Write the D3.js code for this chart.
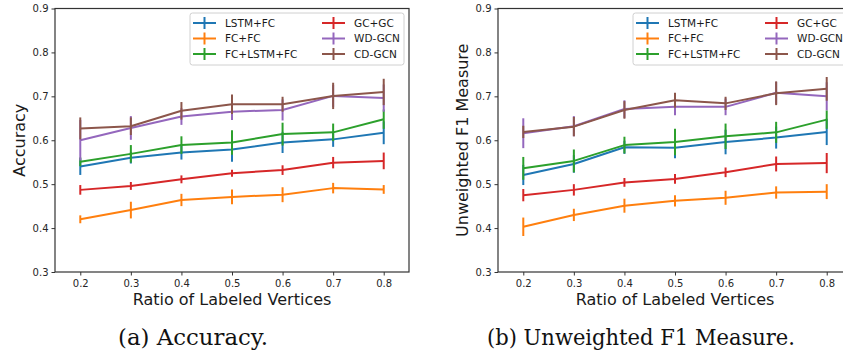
<!DOCTYPE html>
<html>
<head>
<meta charset="utf-8">
<script src="https://cdn.jsdelivr.net/npm/d3@7"></script>
<style>
  body { margin: 0; background: #fff; }
  svg { display: block; }
  .tick text { font-family: "DejaVu Sans", sans-serif; font-size: 10px; fill: #262626; }
</style>
</head>
<body>
<svg id="chart" width="843" height="353"></svg>
<script>
// ---------- data ----------
const ratios = [0.2, 0.3, 0.4, 0.5, 0.6, 0.7, 0.8];
const seriesNames = ["LSTM+FC", "FC+FC", "FC+LSTM+FC", "GC+GC", "WD-GCN", "CD-GCN"];
const seriesColors = ["#1f77b4", "#ff7f0e", "#2ca02c", "#d62728", "#9467bd", "#8c564b"];
const yTicks = [0.3, 0.4, 0.5, 0.6, 0.7, 0.8, 0.9];
const xTicks = [0.2, 0.3, 0.4, 0.5, 0.6, 0.7, 0.8];

// Accuracy (a)
const accLSTMFC     = [0.540, 0.560, 0.572, 0.579, 0.595, 0.602, 0.617];
const accLSTMFCErr  = [0.019, 0.013, 0.016, 0.028, 0.024, 0.017, 0.026];
const accFCFC       = [0.420, 0.441, 0.464, 0.471, 0.476, 0.491, 0.488];
const accFCFCErr    = [0.009, 0.019, 0.014, 0.017, 0.017, 0.012, 0.010];
const accFCLSTMFC   = [0.551, 0.569, 0.589, 0.595, 0.614, 0.618, 0.648];
const accFCLSTMFCErr= [0.010, 0.020, 0.020, 0.028, 0.026, 0.020, 0.022];
const accGCGC       = [0.487, 0.496, 0.511, 0.525, 0.532, 0.549, 0.553];
const accGCGCErr    = [0.011, 0.009, 0.009, 0.008, 0.011, 0.013, 0.019];
const accWDGCN      = [0.600, 0.628, 0.654, 0.665, 0.669, 0.701, 0.696];
const accWDGCNErr   = [0.046, 0.027, 0.019, 0.019, 0.024, 0.025, 0.031];
const accCDGCN      = [0.627, 0.632, 0.667, 0.682, 0.682, 0.701, 0.710];
const accCDGCNErr   = [0.025, 0.020, 0.020, 0.022, 0.017, 0.030, 0.030];

// Unweighted F1 (b)
const f1LSTMFC      = [0.521, 0.546, 0.584, 0.583, 0.596, 0.606, 0.619];
const f1LSTMFCErr   = [0.023, 0.020, 0.015, 0.024, 0.028, 0.025, 0.030];
const f1FCFC        = [0.403, 0.430, 0.451, 0.462, 0.469, 0.481, 0.483];
const f1FCFCErr     = [0.021, 0.014, 0.016, 0.013, 0.016, 0.014, 0.017];
const f1FCLSTMFC    = [0.536, 0.553, 0.589, 0.596, 0.609, 0.618, 0.647];
const f1FCLSTMFCErr = [0.026, 0.026, 0.019, 0.030, 0.029, 0.024, 0.021];
const f1GCGC        = [0.475, 0.487, 0.504, 0.512, 0.527, 0.546, 0.548];
const f1GCGCErr     = [0.014, 0.013, 0.010, 0.011, 0.011, 0.017, 0.023];
const f1WDGCN       = [0.616, 0.632, 0.671, 0.676, 0.676, 0.708, 0.700];
const f1WDGCNErr    = [0.034, 0.023, 0.020, 0.019, 0.019, 0.025, 0.032];
const f1CDGCN       = [0.619, 0.631, 0.669, 0.691, 0.684, 0.707, 0.717];
const f1CDGCNErr    = [0.014, 0.022, 0.020, 0.017, 0.015, 0.027, 0.027];

const panels = [
  {
    left: 55, right: 409, top: 8.5, bottom: 272,
    yLabel: "Accuracy", yLabelX: 19,
    caption: "(a) Accuracy.", captionX: 193, captionW: 150,
    legendX: 190,
    values: [accLSTMFC, accFCFC, accFCLSTMFC, accGCGC, accWDGCN, accCDGCN],
    errors: [accLSTMFCErr, accFCFCErr, accFCLSTMFCErr, accGCGCErr, accWDGCNErr, accCDGCNErr]
  },
  {
    left: 498, right: 852, top: 8.5, bottom: 272,
    yLabel: "Unweighted F1 Measure", yLabelX: 462,
    caption: "(b) Unweighted F1 Measure.", captionX: 641, captionW: 308,
    legendX: 633,
    values: [f1LSTMFC, f1FCFC, f1FCLSTMFC, f1GCGC, f1WDGCN, f1CDGCN],
    errors: [f1LSTMFCErr, f1FCFCErr, f1FCLSTMFCErr, f1GCGCErr, f1WDGCNErr, f1CDGCNErr]
  }
];

const svg = d3.select("#chart");

panels.forEach(p => {
  const x = d3.scaleLinear().domain([0.15, 0.85]).range([p.left, p.right]);
  const y = d3.scaleLinear().domain([0.3, 0.9]).range([p.bottom, p.top]);
  const g = svg.append("g");

  // series
  const line = d3.line().x((d, i) => x(ratios[i])).y(d => y(d));
  p.values.forEach((vals, si) => {
    const sg = g.append("g");
    sg.append("path")
      .attr("d", line(vals))
      .attr("fill", "none")
      .attr("stroke", seriesColors[si])
      .attr("stroke-width", 2)
      .attr("stroke-linejoin", "round");
    sg.selectAll("line.err").data(vals).enter().append("line")
      .attr("class", "err")
      .attr("x1", (d, i) => x(ratios[i]))
      .attr("x2", (d, i) => x(ratios[i]))
      .attr("y1", (d, i) => y(d - p.errors[si][i]))
      .attr("y2", (d, i) => y(d + p.errors[si][i]))
      .attr("stroke", seriesColors[si])
      .attr("stroke-width", 2);
  });

  // axes
  const xAxis = d3.axisBottom(x).tickValues(xTicks).tickFormat(d3.format(".1f")).tickSize(3.5).tickPadding(4);
  const yAxis = d3.axisLeft(y).tickValues(yTicks).tickFormat(d3.format(".1f")).tickSize(3.5).tickPadding(3);
  const gx = g.append("g").attr("transform", `translate(0,${p.bottom})`).call(xAxis);
  const gy = g.append("g").attr("transform", `translate(${p.left},0)`).call(yAxis);
  [gx, gy].forEach(a => {
    a.select(".domain").remove();
    a.selectAll(".tick line").attr("stroke", "#333").attr("stroke-width", 1);
  });

  // frame
  g.append("rect")
    .attr("x", p.left).attr("y", p.top)
    .attr("width", p.right - p.left).attr("height", p.bottom - p.top)
    .attr("fill", "none").attr("stroke", "#333").attr("stroke-width", 1.2);

  // axis labels
  g.append("text")
    .attr("x", (p.left + p.right) / 2).attr("y", 305)
    .attr("text-anchor", "middle")
    .attr("font-family", "DejaVu Sans, sans-serif").attr("font-size", 16)
    .attr("fill", "#1a1a1a")
    .text("Ratio of Labeled Vertices");
  g.append("text")
    .attr("transform", `translate(${p.yLabelX},${(p.top + p.bottom) / 2}) rotate(-90)`)
    .attr("text-anchor", "middle")
    .attr("dy", "0.35em")
    .attr("font-family", "DejaVu Sans, sans-serif").attr("font-size", 16)
    .attr("fill", "#1a1a1a")
    .text(p.yLabel);

  // caption
  g.append("text")
    .attr("x", p.captionX).attr("y", 345)
    .attr("text-anchor", "middle")
    .attr("font-family", "DejaVu Serif, serif").attr("font-size", 22)
    .attr("textLength", p.captionW)
    .attr("lengthAdjust", "spacingAndGlyphs")
    .attr("fill", "#111")
    .text(p.caption);

  // legend
  const lg = g.append("g").attr("transform", `translate(${p.legendX},13)`);
  lg.append("rect")
    .attr("width", 214).attr("height", 52).attr("rx", 2.5)
    .attr("fill", "#fff").attr("fill-opacity", 0.85)
    .attr("stroke", "#d0d0d0").attr("stroke-width", 1);
  seriesNames.forEach((name, si) => {
    const col = Math.floor(si / 3), row = si % 3;
    const hx = 3 + col * 129, hy = 10 + row * 15.5;
    lg.append("line")
      .attr("x1", hx).attr("x2", hx + 23).attr("y1", hy).attr("y2", hy)
      .attr("stroke", seriesColors[si]).attr("stroke-width", 2);
    lg.append("line")
      .attr("x1", hx + 11.5).attr("x2", hx + 11.5).attr("y1", hy - 6).attr("y2", hy + 6)
      .attr("stroke", seriesColors[si]).attr("stroke-width", 2);
    lg.append("text")
      .attr("x", hx + 32).attr("y", hy).attr("dy", "0.35em")
      .attr("font-family", "DejaVu Sans, sans-serif").attr("font-size", 10.5)
      .attr("fill", "#1a1a1a")
      .text(name);
  });
});
</script>
</body>
</html>
